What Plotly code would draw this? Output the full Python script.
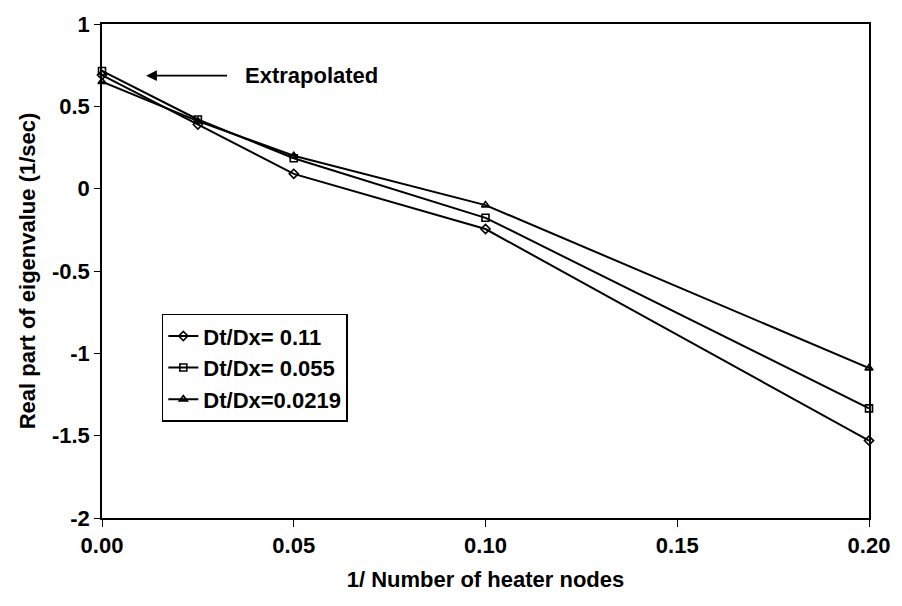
import plotly.graph_objects as go

x_vals = [0.0, 0.025, 0.05, 0.10, 0.20]
s_011 = [0.69, 0.39, 0.09, -0.245, -1.53]
s_0055 = [0.715, 0.42, 0.185, -0.177, -1.334]
s_00219 = [0.65, 0.41, 0.20, -0.10, -1.09]
names = ["Dt/Dx= 0.11", "Dt/Dx= 0.055", "Dt/Dx=0.0219"]
symbols = ["diamond-open", "square-open", "triangle-up-open"]
x_ticks = [0.0, 0.05, 0.10, 0.15, 0.20]
x_tick_text = ["0.00", "0.05", "0.10", "0.15", "0.20"]
y_ticks = [1, 0.5, 0, -0.5, -1, -1.5, -2]
y_tick_text = ["1", "0.5", "0", "-0.5", "-1", "-1.5", "-2"]

font_family = "Liberation Sans, Arial, sans-serif"
W = 600

fig = go.Figure()
for ys, nm, sym in zip([s_011, s_0055, s_00219], names, symbols):
    fig.add_trace(go.Scatter(
        x=x_vals, y=ys, name=nm, mode="lines+markers",
        line=dict(color="black", width=2),
        marker=dict(symbol=sym, size=7, color="black", line=dict(width=1.6, color="black")),
        cliponaxis=False,
    ))

fig.add_annotation(
    x=0.0115, y=0.686, ax=0.033, ay=0.686, xref="x", yref="y", axref="x", ayref="y",
    showarrow=True, arrowhead=2, arrowsize=1.2, arrowwidth=1.8, arrowcolor="black", text="",
)
fig.add_annotation(
    x=0.0368, y=0.686, xref="x", yref="y", text="Extrapolated", showarrow=False,
    xanchor="left", yanchor="middle",
    font=dict(size=22, color="black", family=font_family, weight=W),
)

fig.update_layout(
    width=902, height=606,
    margin=dict(l=102, r=26, t=15, b=88),
    paper_bgcolor="white", plot_bgcolor="white",
    font=dict(family=font_family, color="black", size=21, weight=W),
    showlegend=True,
    legend=dict(
        x=0.078, y=0.195, xanchor="left", yanchor="bottom",
        bordercolor="black", borderwidth=1.5, bgcolor="white",
        font=dict(size=22, color="black", family=font_family, weight=W),
        itemwidth=30, tracegroupgap=0,
    ),
)
fig.update_xaxes(
    range=[0, 0.2], tickvals=x_ticks, ticktext=x_tick_text,
    showgrid=False, zeroline=False, showline=True, linecolor="black", linewidth=1.5,
    mirror=True, ticks="outside", ticklen=7, tickcolor="black",
    tickfont=dict(size=22, family=font_family, weight=W),
    title=dict(text="1/ Number of heater nodes", font=dict(size=22, family=font_family, weight=W), standoff=14),
)
fig.update_yaxes(
    range=[-2, 1], tickvals=y_ticks, ticktext=y_tick_text,
    showgrid=False, zeroline=False, showline=True, linecolor="black", linewidth=1.5,
    mirror=True, ticks="outside", ticklen=6, tickcolor="black",
    tickfont=dict(size=22, family=font_family, weight=W),
    title=dict(text="Real part of eigenvalue (1/sec)", font=dict(size=22, family=font_family, weight=W), standoff=10),
)

fig.write_html("out.html")
